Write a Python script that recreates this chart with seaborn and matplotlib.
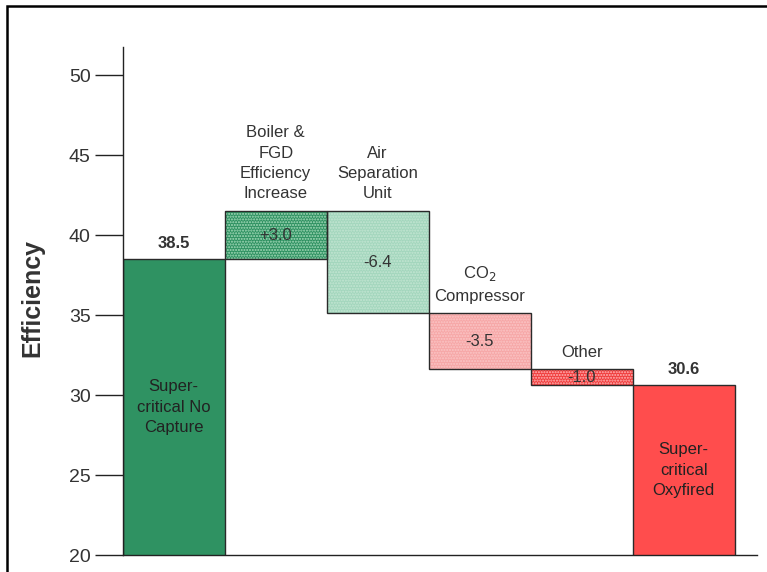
import matplotlib
matplotlib.use('Agg')
import matplotlib.pyplot as plt
import numpy as np
import pandas as pd
import seaborn as sns
from matplotlib.patches import Rectangle

# data
steps = ["start", "boiler", "asu", "co2", "other", "end"]
step_names = ["Super-\ncritical No\nCapture",
              "Boiler &\nFGD\nEfficiency\nIncrease",
              "Air\nSeparation\nUnit",
              "CO$_2$\nCompressor",
              "Other",
              "Super-\ncritical\nOxyfired"]
start_value = 38.5
changes = [3.0, -6.4, -3.5, -1.0]
end_value = 30.6
value_labels = ["38.5", "+3.0", "-6.4", "-3.5", "-1.0", "30.6"]
colors = ["#2f9262", "#2e9161", "#a3d6bd", "#f6a7a7", "#f03c3c", "#ff4d4d"]
dot_colors = [None, "#a8dcbc", "#c4e6d3", "#fbc6c6", "#ffb8b8", None]

# floating bars
levels = np.concatenate([[start_value], start_value + np.cumsum(changes)])
bottoms = [0] + [min(levels[i], levels[i + 1]) for i in range(len(changes))] + [0]
heights = [start_value] + [abs(c) for c in changes] + [end_value]
df = pd.DataFrame({"step": steps, "bottom": bottoms, "height": heights})

sns.set_style("white")
plt.rcParams['font.family'] = ['Liberation Sans', 'DejaVu Sans']
txt = "#333333"

fig = plt.figure(figsize=(7.67, 5.72), dpi=100)
ax = fig.add_axes([0.160, 0.0297, 0.827, 0.888])

# fill layer (with stipple where needed)
sns.barplot(data=df, x="step", y="height", hue="step", palette=colors,
            saturation=1, width=1.0, linewidth=0, legend=False, ax=ax)
fills = list(ax.patches)
# outline layer
sns.barplot(data=df, x="step", y="height", width=1.0, fill=False,
            edgecolor="#2a2a2a", linewidth=1.0, ax=ax)
outlines = list(ax.patches)[len(fills):]

for p, b in zip(fills + outlines, bottoms + bottoms):
    p.set_y(b)

for p, dc in zip(fills, dot_colors):
    if dc is not None:
        p.set_hatch("......")
        p.set_edgecolor(dc)
        p.set_linewidth(0)

ax.set_xlim(-0.5, 5.72)
ax.set_ylim(20, 51.75)
ax.set_yticks([20, 25, 30, 35, 40, 45, 50])
ax.set_xticks([])
ax.set_xlabel("")
ax.set_ylabel("Efficiency", fontsize=18, fontweight="bold", color=txt)
ax.yaxis.set_label_coords(-0.123, 0.506)
ax.tick_params(axis="y", direction="out", length=20, width=1, color="#222222",
               labelsize=14, labelcolor=txt, pad=3, left=True)
for s in ["top", "right"]:
    ax.spines[s].set_visible(False)
for s in ["left", "bottom"]:
    ax.spines[s].set_color("#222222")
    ax.spines[s].set_linewidth(1.0)

y0 = ax.get_ylim()[0]
for i, (name, b, h, lab) in enumerate(zip(step_names, bottoms, heights, value_labels)):
    top = b + h
    if i in (0, len(steps) - 1):
        ax.text(i, (y0 + top) / 2, name, ha="center", va="center", fontsize=12,
                color="#222222", linespacing=1.45)
        ax.annotate(lab, (i, top), xytext=(0, 6), textcoords="offset points",
                    ha="center", va="bottom", fontsize=12, fontweight="bold", color=txt)
    else:
        ax.text(i, b + h / 2, lab, ha="center", va="center", fontsize=12, color=txt)
        ax.annotate(name, (i, top), xytext=(0, 7), textcoords="offset points",
                    ha="center", va="bottom", fontsize=12, color=txt, linespacing=1.45)

# frame around the picture
fig.patches.append(Rectangle((7 / 767, -0.1), 1.2, 1.1 - 6 / 572,
                             transform=fig.transFigure, fill=False,
                             edgecolor="black", linewidth=1.8))

fig.savefig("out.png", dpi=100)
